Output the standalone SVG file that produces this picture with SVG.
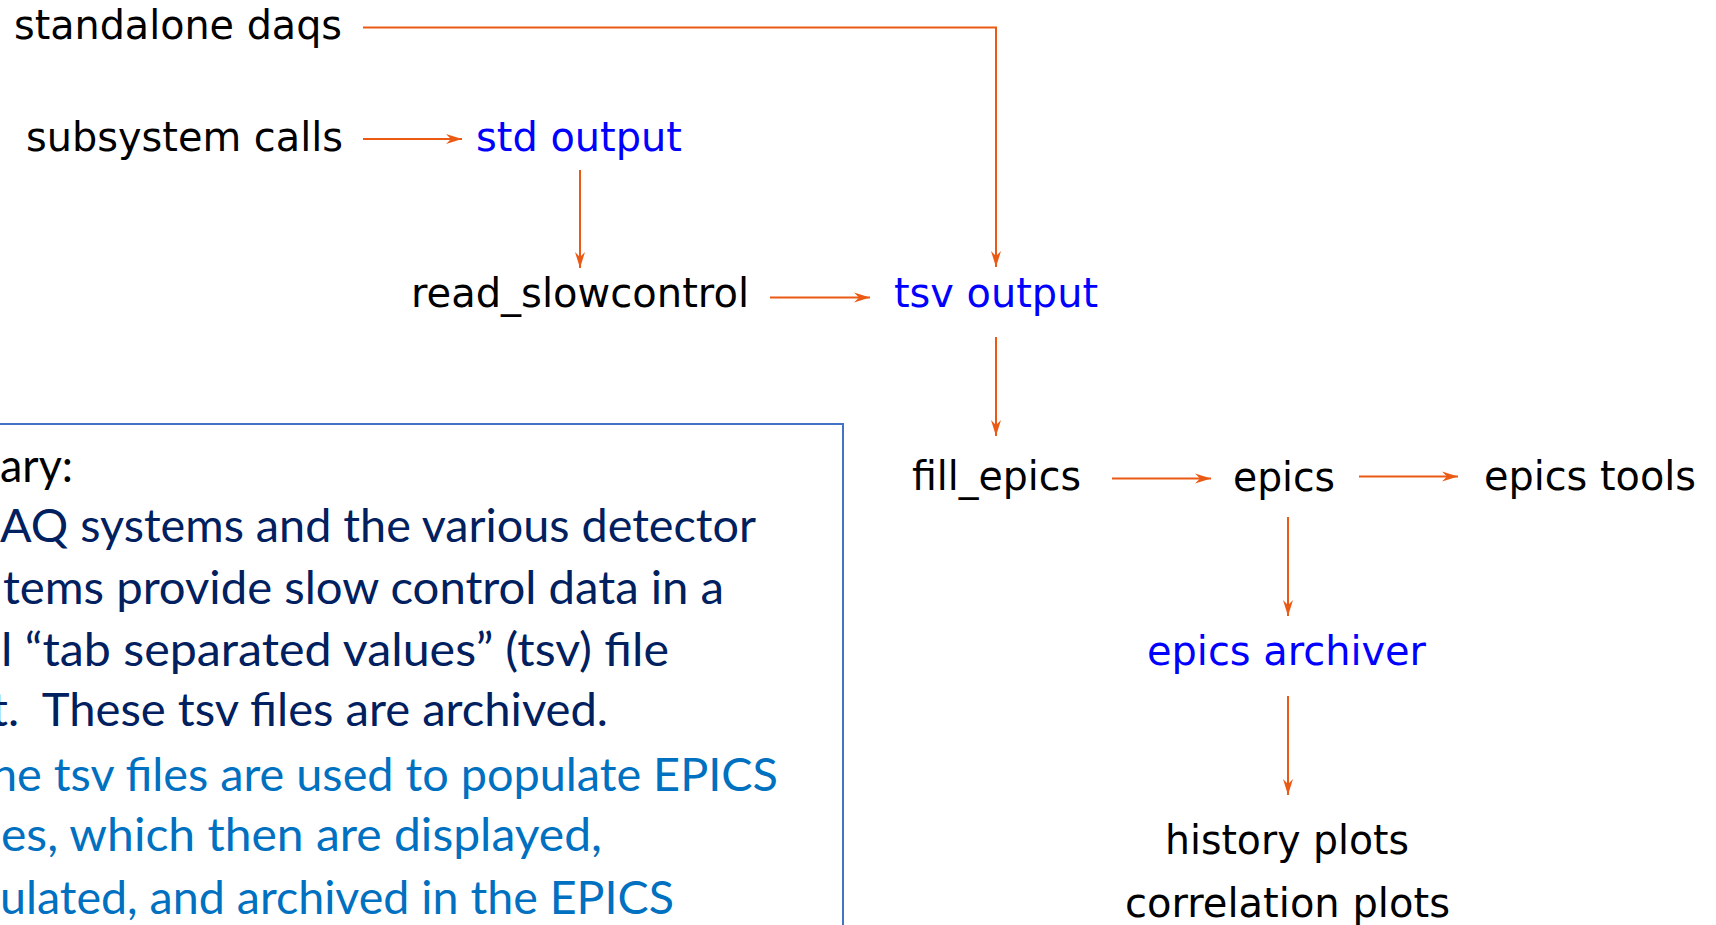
<svg xmlns="http://www.w3.org/2000/svg" width="1716" height="925" viewBox="0 0 1716 925">
<style>
.lbl{font-family:"DejaVu Sans",sans-serif;font-size:40px;fill:#000}
.blue{fill:#0000FF}
.sum{font-family:Lato,"Liberation Sans",sans-serif;font-size:46px}
.c{fill:none;stroke:#EB5A14;stroke-width:2;marker-end:url(#ah)}
</style>
<defs>
<marker id="ah" markerUnits="userSpaceOnUse" markerWidth="16" markerHeight="10" refX="16" refY="5" orient="auto" overflow="visible">
<path d="M0,0 L16,5 L0,10 L5,5 z" fill="#EB5A14"/>
</marker>
</defs>
<rect width="1716" height="925" fill="#fff"/>
<g id="summary">
<rect x="-10" y="424" width="853" height="620" fill="none" stroke="#4472C4" stroke-width="2"/>
<text class="sum" x="0" y="482" fill="#000" textLength="73" lengthAdjust="spacingAndGlyphs">ary:</text>
<text class="sum" x="0" y="542" fill="#002060" textLength="756" lengthAdjust="spacingAndGlyphs">AQ systems and the various detector</text>
<text class="sum" x="3" y="604" fill="#002060" textLength="721" lengthAdjust="spacingAndGlyphs">tems provide slow control data in a</text>
<text class="sum" x="1" y="666" fill="#002060" textLength="668" lengthAdjust="spacingAndGlyphs">l “tab separated values” (tsv) file</text>
<text class="sum" x="-9" y="726" fill="#002060" textLength="617" lengthAdjust="spacingAndGlyphs">t.&#160; These tsv files are archived.</text>
<text class="sum" x="-9" y="791" fill="#0070C0" textLength="787" lengthAdjust="spacingAndGlyphs">he tsv files are used to populate EPICS</text>
<text class="sum" x="1" y="851" fill="#0070C0" textLength="601" lengthAdjust="spacingAndGlyphs">es, which then are displayed,</text>
<text class="sum" x="0" y="914" fill="#0070C0" textLength="674" lengthAdjust="spacingAndGlyphs">ulated, and archived in the EPICS</text>
</g>
<g id="standalone-daqs"><text class="lbl" x="14" y="39" textLength="328" lengthAdjust="spacingAndGlyphs">standalone daqs</text></g>
<g id="subsystem-calls"><text class="lbl" x="26" y="151" textLength="317" lengthAdjust="spacingAndGlyphs">subsystem calls</text></g>
<g id="std-output"><text class="lbl blue" x="476" y="151" textLength="206" lengthAdjust="spacingAndGlyphs">std output</text></g>
<g id="read-slowcontrol"><text class="lbl" x="411" y="307" textLength="338" lengthAdjust="spacingAndGlyphs">read_slowcontrol</text></g>
<g id="tsv-output"><text class="lbl blue" x="894" y="307" textLength="204" lengthAdjust="spacingAndGlyphs">tsv output</text></g>
<g id="fill-epics"><text class="lbl" x="912" y="490" textLength="169" lengthAdjust="spacingAndGlyphs">fill_epics</text></g>
<g id="epics"><text class="lbl" x="1233" y="491" textLength="102" lengthAdjust="spacingAndGlyphs">epics</text></g>
<g id="epics-tools"><text class="lbl" x="1484" y="490" textLength="212" lengthAdjust="spacingAndGlyphs">epics tools</text></g>
<g id="epics-archiver"><text class="lbl blue" x="1147" y="665" textLength="279" lengthAdjust="spacingAndGlyphs">epics archiver</text></g>
<g id="plots">
<text class="lbl" x="1165" y="854" textLength="244" lengthAdjust="spacingAndGlyphs">history plots</text>
<text class="lbl" x="1125" y="917" textLength="325" lengthAdjust="spacingAndGlyphs">correlation plots</text>
</g>
<g id="connectors">
<path class="c" d="M363,27.5 H996 V267"/>
<path class="c" d="M363,139 H462"/>
<path class="c" d="M580,170 V268"/>
<path class="c" d="M770,297.5 H870"/>
<path class="c" d="M996,337 V436"/>
<path class="c" d="M1112,478.5 H1211"/>
<path class="c" d="M1359,476.5 H1458"/>
<path class="c" d="M1288,517 V616"/>
<path class="c" d="M1288,696 V795"/>
</g>
</svg>
